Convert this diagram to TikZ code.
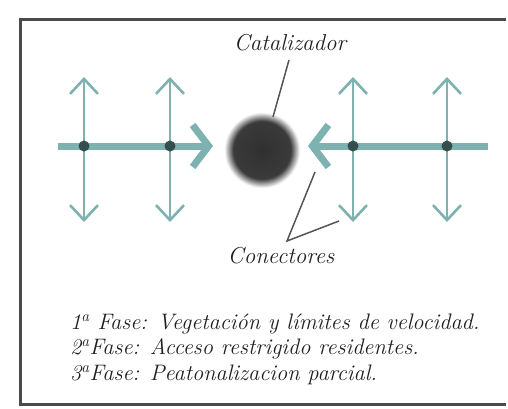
\documentclass[tikz,border=0pt]{standalone}
\usetikzlibrary{arrows.meta}
\definecolor{tealc}{HTML}{7DB2B0}
\definecolor{dotc}{HTML}{2C4443}
\definecolor{framec}{HTML}{4A4A4A}
\definecolor{leadc}{HTML}{555555}
\definecolor{blobc}{HTML}{303030}
\pgfdeclareradialshading{blobshade}{\pgfpoint{0bp}{0bp}}{color(0bp)=(blobc); color(16bp)=(blobc!95!white); color(21bp)=(white); color(50bp)=(white)}
\begin{document}
\begin{tikzpicture}[x=1pt,y=-1pt,
  varrow/.style={draw=tealc, line width=2.6pt, {Straight Barb[length=15pt,width=28pt]}-{Straight Barb[length=15pt,width=28pt]}},
  hbar/.style={draw=tealc, line width=7pt, -{Straight Barb[length=16pt,width=42pt]}},
  dotn/.style={circle, fill=dotc, inner sep=0pt, minimum size=11pt, opacity=0.9},
  lead/.style={draw=leadc, line width=1.5pt},
  lbl/.style={font=\fontsize{23}{27}\selectfont\itshape, text=black!88, inner sep=0pt},
  txt/.style={font=\fontsize{22.4}{26}\selectfont\itshape, text=black!88, inner sep=0pt, anchor=base west},
  frameline/.style={draw=framec, line width=3pt}
]
\useasboundingbox (0,0) rectangle (508,408);
% frame (open on the right)
\draw[frameline] (506,19) -- (20,19) -- (20,404) -- (506,404);

% catalyst blob (drawn first: its white fade stays behind)
\node[circle, inner sep=0pt, minimum size=90pt, shading=blobshade] (cat) at (262,150) {};

% coordinates
\coordinate (d1t) at (84,77);  \coordinate (d1b) at (84,222);
\coordinate (d2t) at (170,77); \coordinate (d2b) at (170,222);
\coordinate (d3t) at (353,77); \coordinate (d3b) at (353,222);
\coordinate (d4t) at (447,77); \coordinate (d4b) at (447,222);
\coordinate (hl) at (58,146);  \coordinate (hr) at (213,146);
\coordinate (rr) at (488,146); \coordinate (rl) at (308,146);

% vertical arrows
\draw[varrow] (d1b) -- (d1t);
\draw[varrow] (d2b) -- (d2t);
\draw[varrow] (d3b) -- (d3t);
\draw[varrow] (d4b) -- (d4t);

% horizontal connectors
\draw[hbar] (hl) -- (hr);
\draw[hbar] (rr) -- (rl);

% dots
\node[dotn] (d1) at (84,146) {};
\node[dotn] (d2) at (170,146) {};
\node[dotn] (d3) at (353,146) {};
\node[dotn] (d4) at (447,146) {};

% labels
\node[lbl] (cattxt) at (290,43) {Catalizador};
\coordinate (cl1) at (289,60);
\coordinate (cl2) at (273,117);
\draw[lead] (cl1) -- (cl2);

\node[lbl] (contxt) at (281,256) {Conectores};
\coordinate (cj) at (287,241);
\coordinate (ce1) at (315,172);
\coordinate (ce2) at (339,221);
\draw[lead] (ce1) -- (cj) -- (ce2);

\node[txt] (t1) at (70,329) {1\textsuperscript{a} Fase: Vegetación y límites de velocidad.};
\node[txt] (t2) at (70,354.5) {2\textsuperscript{a}Fase: Acceso restrigido residentes.};
\node[txt] (t3) at (70,380) {3\textsuperscript{a}Fase: Peatonalizacion parcial.};
\end{tikzpicture}
\end{document}
